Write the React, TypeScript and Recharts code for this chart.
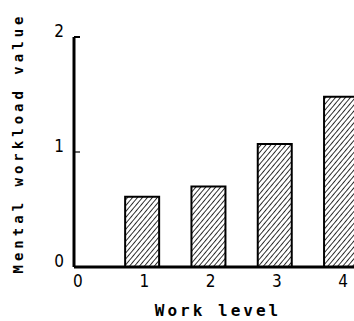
import { BarChart, Bar, XAxis, YAxis } from 'recharts';

const workLevels = [1, 2, 3, 4];
const workloadValues = [0.61, 0.7, 1.07, 1.48];
const xTicks = [0, 1, 2, 3, 4];
const yTicks = [0, 1, 2];

const data = workLevels.map((level, i) => ({ level, value: workloadValues[i] }));

const DIGIT_FONT = '"Liberation Sans Narrow", "DejaVu Sans Condensed", "Liberation Sans", sans-serif';
const TITLE_FONT = '"DejaVu Sans Mono", "Liberation Mono", monospace';

const XTick = ({ x, y, payload }: any) => (
  <text
    x={x + 2}
    y={y + 20}
    textAnchor="middle"
    fontFamily={DIGIT_FONT}
    fontSize={17}
    fill="#000"
  >
    {payload.value}
  </text>
);

const YTick = ({ x, y, payload }: any) => (
  <g>
    {payload.value > 0 && (
      <line x1={x} y1={y} x2={x + 6} y2={y} stroke="#000" strokeWidth={payload.value === 2 ? 2 : 1.2} />
    )}
    <text
      x={x - 10}
      y={y}
      textAnchor="end"
      fontFamily={DIGIT_FONT}
      fontSize={17}
      fill="#000"
    >
      {payload.value}
    </text>
  </g>
);

const XTitle = () => (
  <text
    x={218}
    y={316}
    textAnchor="middle"
    fontFamily={TITLE_FONT}
    fontWeight="bold"
    fontSize={16}
    letterSpacing={3}
    fill="#000"
  >
    Work level
  </text>
);

const YTitle = () => (
  <text
    x={23}
    y={143}
    transform="rotate(-90, 23, 143)"
    textAnchor="middle"
    fontFamily={TITLE_FONT}
    fontWeight="bold"
    fontSize={14}
    letterSpacing={4}
    fill="#000"
  >
    Mental workload value
  </text>
);

export default function App() {
  return (
    <div
      style={{
        position: 'absolute',
        left: 0,
        top: 0,
        width: 354,
        height: 321,
        overflow: 'hidden',
        background: '#fff',
      }}
    >
      <BarChart
        width={440}
        height={321}
        data={data}
        margin={{ top: 37, right: 0, bottom: 0, left: 0 }}
      >
        <defs>
          <pattern
            id="hatch"
            width="3.8"
            height="3.8"
            patternUnits="userSpaceOnUse"
            patternTransform="rotate(40)"
          >
            <rect width="3.8" height="3.8" fill="#fff" />
            <line x1="0" y1="0" x2="0" y2="3.8" stroke="#000" strokeWidth="1.6" />
          </pattern>
        </defs>
        <XAxis
          type="number"
          dataKey="level"
          domain={[-0.03, 5.49]}
          ticks={xTicks}
          allowDataOverflow
          height={54}
          tickLine={false}
          tickSize={0}
          tickMargin={0}
          axisLine={{ stroke: '#000', strokeWidth: 3 }}
          tick={<XTick />}
          label={<XTitle />}
        />
        <YAxis
          type="number"
          domain={[0, 2]}
          ticks={yTicks}
          width={74}
          tickLine={false}
          tickSize={0}
          tickMargin={0}
          axisLine={{ stroke: '#000', strokeWidth: 3 }}
          tick={<YTick />}
          label={<YTitle />}
        />
        <Bar
          dataKey="value"
          barSize={34}
          fill="url(#hatch)"
          stroke="#000"
          strokeWidth={2}
          isAnimationActive={false}
        />
      </BarChart>
    </div>
  );
}
